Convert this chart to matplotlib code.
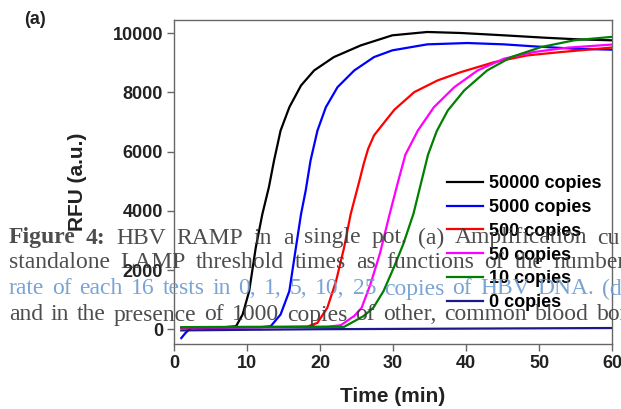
import matplotlib
matplotlib.use("Agg")
import matplotlib.pyplot as plt

plt.rcParams["font.family"] = ["Liberation Sans", "DejaVu Sans"]

# Amplification curves (time in min, RFU)
black_t = [1, 4, 7, 8.5, 9.4, 10.3, 11.2, 12.1, 13.0, 13.7, 14.6, 15.8, 17.4, 19.2, 21.9, 25.6, 29.9, 34.7, 39.3, 45.2, 50.7, 55.0, 60]
black_v = [50, 60, 70, 100, 497, 1288, 2757, 3887, 4800, 5695, 6712, 7502, 8237, 8746, 9197, 9593, 9932, 10045, 10011, 9932, 9853, 9800, 9763]

blue_t = [1, 1.6, 2.3, 5, 9, 12, 13.25, 14.6, 15.8, 16.7, 17.4, 18.05, 18.7, 19.65, 20.8, 22.4, 24.7, 27.4, 29.9, 34.7, 40.2, 45.2, 49.3, 54.8, 60]
blue_v = [-300, -120, 40, 50, 60, 70, 100, 497, 1288, 2757, 3887, 4700, 5695, 6712, 7502, 8180, 8746, 9197, 9424, 9627, 9672, 9627, 9559, 9480, 9447]

red_t = [1, 5, 10, 15, 18.3, 19.65, 21.0, 22.2, 23.3, 24.2, 25.4, 26.0, 26.6, 27.4, 29.0, 30.2, 32.9, 36.1, 39.3, 43.9, 48.4, 53.0, 60]
red_v = [60, 65, 70, 75, 90, 215, 723, 1627, 2757, 3887, 5017, 5600, 6100, 6550, 7051, 7420, 8011, 8407, 8689, 9028, 9254, 9367, 9520]

magenta_t = [1, 5, 10, 15, 20, 21.0, 22.85, 24.7, 25.7, 26.9, 28.2, 29.5, 30.6, 31.7, 33.4, 35.6, 38.4, 41.6, 45.2, 49.3, 53.9, 60]
magenta_v = [60, 65, 70, 75, 80, 85, 135, 450, 723, 1514, 2550, 3850, 4900, 5900, 6712, 7502, 8180, 8746, 9142, 9367, 9515, 9620]

green_t = [1, 5, 10, 15, 20, 23.3, 25.95, 27.3, 28.7, 30.1, 31.4, 32.8, 33.7, 34.8, 36.0, 37.5, 39.75, 42.9, 46.2, 50.3, 54.8, 60]
green_v = [70, 75, 80, 80, 80, 80, 440, 723, 1288, 2079, 2870, 3900, 4800, 5900, 6700, 7390, 8068, 8746, 9197, 9536, 9763, 9880]

navy_t = [1, 10, 20, 30, 40, 50, 60]
navy_v = [-40, -20, 0, 10, 20, 30, 40]

labels = ["50000 copies", "5000 copies", "500 copies", "50 copies", "10 copies", "0 copies"]
colors = ["black", "#0000ff", "#ff0000", "#ff00ff", "#008000", "#1a1a8a"]

x_ticks = [0, 10, 20, 30, 40, 50, 60]
y_ticks = [0, 2000, 4000, 6000, 8000, 10000]

# caption text from the paper page that sits over the chart (justified lines, cut at the right edge)
caption_lines = [
    "Figure 4: HBV RAMP in a single pot. (a) Amplification cu",
    "standalone LAMP threshold times as functions of the number",
    "rate of each 16 tests in 0, 1, 5, 10, 25 copies of HBV DNA. (d",
    "and in the presence of 1000 copies of other, common blood born",
]
caption_y = [238, 263, 289, 315]
caption_end = [620, 626, 622, 640]
caption_colors = ["#3a3a3a", "#3a3a3a", "#6b9bd0", "#3a3a3a"]
bold_words = 2  # "Figure 4:" is bold

W, H = 621, 409
fig = plt.figure(figsize=(W / 100, H / 100), dpi=100)
ax = fig.add_axes([174 / W, 1 - 344 / H, (612 - 174) / W, (344 - 20) / H])

series = [(black_t, black_v), (blue_t, blue_v), (red_t, red_v),
          (magenta_t, magenta_v), (green_t, green_v), (navy_t, navy_v)]
for (t, v), lab, c in zip(series, labels, colors):
    ax.plot(t, v, color=c, lw=1.6, label=lab)

ax.set_xlim(0, 60)
ax.set_ylim(-500, 10450)
ax.set_xticks(x_ticks)
ax.set_yticks(y_ticks)
for s in ax.spines.values():
    s.set_color("#666666")
    s.set_linewidth(1.0)
ax.tick_params(direction="out", length=5, width=1, color="#666666", labelsize=13, pad=3)
for lbl in ax.get_xticklabels() + ax.get_yticklabels():
    lbl.set_fontweight("bold")
    lbl.set_color("#222222")

ax.set_xlabel("Time (min)", fontsize=15, fontweight="bold", color="#222222")
ax.xaxis.set_label_coords(0.5, (344 - 396) / 324)
ax.xaxis.label.set_va("center")
ax.set_ylabel("RFU (a.u.)", fontsize=15, fontweight="bold", color="#222222")
ax.yaxis.set_label_coords((77 - 174) / 438, 0.5)
ax.yaxis.label.set_va("center")

ax.legend(loc="upper left", bbox_to_anchor=(447 / W, 1 - 175 / H), bbox_transform=fig.transFigure,
          frameon=False, borderaxespad=0, borderpad=0, handlelength=2.0, handletextpad=0.3,
          labelspacing=0.38, prop={"weight": "bold", "size": 13})

fig.text(35 / W, 1 - 20 / H, "(a)", ha="center", va="center", fontsize=13, fontweight="bold", color="#222222")

# lay out the caption words, spreading them so each line fills its width
renderer = fig.canvas.get_renderer()
x0 = 8.7
for i, (line, y, end, c) in enumerate(zip(caption_lines, caption_y, caption_end, caption_colors)):
    words = line.split(" ")
    texts = []
    for j, w in enumerate(words):
        wt = "bold" if (i == 0 and j < bold_words) else "normal"
        texts.append(fig.text(0, 1 - y / H, w, ha="left", va="center", fontsize=17,
                              family="Liberation Serif", fontweight=wt, color=c, alpha=0.9))
    widths = [t.get_window_extent(renderer).width for t in texts]
    gap = (end - x0 - sum(widths)) / (len(words) - 1)
    x = x0
    for t, wd in zip(texts, widths):
        t.set_x(x / W)
        x += wd + gap

fig.savefig("out.png", dpi=100)
